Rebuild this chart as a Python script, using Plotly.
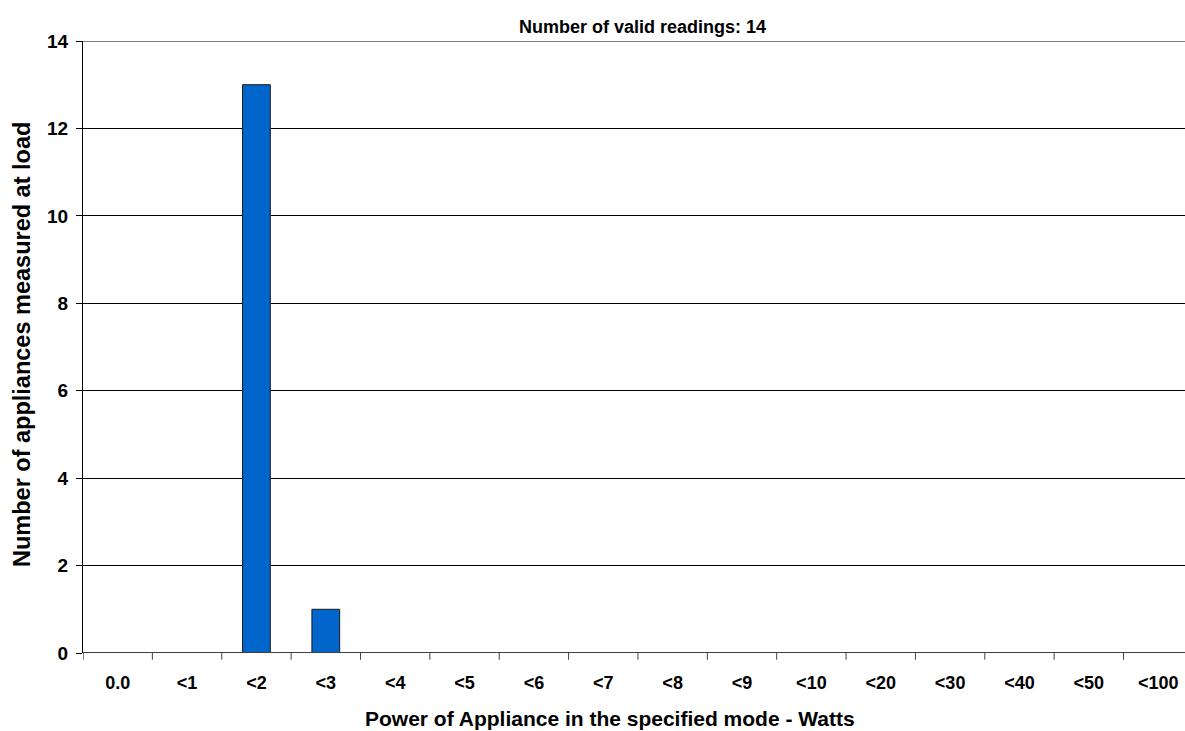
import plotly.graph_objects as go

categories = ["0.0", "<1", "<2", "<3", "<4", "<5", "<6", "<7", "<8", "<9",
              "<10", "<20", "<30", "<40", "<50", "<100"]
counts = [0, 0, 13, 1, 0, 0, 0, 0, 0, 0, 0, 0, 0, 0, 0, 0]
y_ticks = [0, 2, 4, 6, 8, 10, 12, 14]

chart_title = "Number of valid readings: 14"
x_title = "Power of Appliance in the specified mode - Watts"
y_title = "Number of appliances measured at load"

FONT = "Liberation Sans, Arial, sans-serif"

# only outline bars that actually have a height
outline_widths = [1 if c > 0 else 0 for c in counts]

fig = go.Figure(
    go.Bar(
        x=list(range(len(categories))),
        y=counts,
        width=0.4,
        marker=dict(color="#0066CC", line=dict(color="#1a1a1a", width=outline_widths)),
        hoverinfo="x+y",
    )
)

fig.update_layout(
    width=1185,
    height=731,
    margin=dict(l=83, r=0, t=41, b=78),
    paper_bgcolor="white",
    plot_bgcolor="white",
    showlegend=False,
    font=dict(family=FONT, color="black"),
)

fig.update_xaxes(
    tickmode="array",
    tickvals=list(range(len(categories))),
    ticktext=[f"<b>{c.replace('<', '&lt;')}</b>" for c in categories],
    range=[-0.5, 15.386],
    showgrid=False,
    zeroline=False,
    showline=False,
    ticks="",
    tickfont=dict(size=18, family=FONT, color="black", weight="bold"),
    ticklabelstandoff=17,
)

fig.update_yaxes(
    range=[0, 14],
    tickmode="array",
    tickvals=y_ticks,
    ticktext=[f"<b>{v}</b>" for v in y_ticks],
    showgrid=True,
    gridcolor="black",
    gridwidth=1,
    zeroline=False,
    showline=True,
    linecolor="black",
    linewidth=1,
    ticks="outside",
    ticklen=6,
    tickcolor="black",
    tickfont=dict(size=19, family=FONT, color="black", weight="bold"),
    ticklabelstandoff=4,
)

# gridline at the top of the value range
fig.add_shape(
    type="line", xref="paper", yref="y",
    x0=0, x1=1, y0=y_ticks[-1], y1=y_ticks[-1],
    line=dict(color="black", width=1), layer="below",
)

# category axis baseline
fig.add_shape(
    type="line", xref="paper", yref="y",
    x0=0, x1=1, y0=0, y1=0,
    line=dict(color="#404040", width=2), layer="above",
)

# boundary tick marks below the category axis
for i in range(len(categories)):
    fig.add_shape(
        type="line", xref="x", yref="paper",
        x0=i - 0.5, x1=i - 0.5, y0=0, y1=-0.011,
        line=dict(color="#404040" if i else "black", width=1),
    )

fig.add_annotation(
    text=f"<b>{chart_title}</b>", xref="paper", yref="paper",
    x=(642 - 83) / (1185 - 83), y=(731 - 27 - 78) / (731 - 41 - 78),
    showarrow=False, font=dict(size=18, family=FONT, color="black", weight="bold"),
    xanchor="center", yanchor="middle",
)
fig.add_annotation(
    text=f"<b>{x_title}</b>", xref="paper", yref="paper",
    x=(610 - 83) / (1185 - 83), y=(731 - 718 - 78) / (731 - 41 - 78),
    showarrow=False, font=dict(size=21, family=FONT, color="black", weight="bold"),
    xanchor="center", yanchor="middle",
)
fig.add_annotation(
    text=f"<b>{y_title}</b>", xref="paper", yref="paper",
    x=(22 - 83) / (1185 - 83), y=(731 - 345 - 78) / (731 - 41 - 78),
    showarrow=False, textangle=-90, font=dict(size=23.5, family=FONT, color="black", weight="bold"),
    xanchor="center", yanchor="middle",
)

fig.write_html("out.html")
